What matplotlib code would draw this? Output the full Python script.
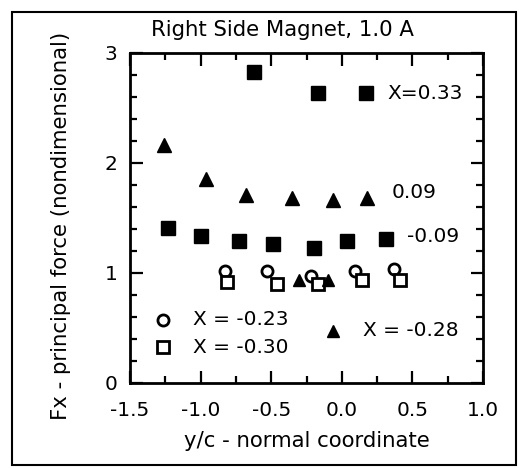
import matplotlib
matplotlib.use("Agg")
import matplotlib.pyplot as plt
from matplotlib.patches import Rectangle
from matplotlib.ticker import MultipleLocator, FormatStrFormatter

plt.rcParams['font.family'] = ['DejaVu Sans']

# Data
x_033 = [-0.62, -0.17, 0.17]
y_033 = [2.83, 2.64, 2.64]

x_009 = [-1.26, -0.96, -0.68, -0.35, -0.06, 0.18]
y_009 = [2.16, 1.85, 1.71, 1.68, 1.66, 1.68]

x_m009 = [-1.23, -1.00, -0.73, -0.49, -0.20, 0.04, 0.31]
y_m009 = [1.41, 1.34, 1.29, 1.26, 1.23, 1.29, 1.31]

x_m023 = [-0.83, -0.53, -0.22, 0.09, 0.37]
y_m023 = [1.02, 1.02, 0.97, 1.02, 1.04]

x_m030 = [-0.81, -0.46, -0.17, 0.14, 0.41]
y_m030 = [0.92, 0.90, 0.90, 0.94, 0.94]

x_m028 = [-0.30, -0.10]
y_m028 = [0.94, 0.94]

FS = 14.5
FL = 15.3

fig = plt.figure(figsize=(5.19, 4.68), dpi=100)
ax = fig.add_axes([130/519, 1-383/468, (483-130)/519, (383-53)/468])

ax.plot(x_033, y_033, 's', color='black', ms=10, ls='none')
ax.plot(x_009, y_009, '^', color='black', ms=10, ls='none')
ax.plot(x_m009, y_m009, 's', color='black', ms=10, ls='none')
ax.plot(x_m023, y_m023, 'o', mfc='white', mec='black', mew=2, ms=8, ls='none')
ax.plot(x_m030, y_m030, 's', mfc='white', mec='black', mew=2, ms=8, ls='none')
ax.plot(x_m028, y_m028, '^', color='black', ms=8, ls='none')

ax.set_xlim(-1.5, 1.0)
ax.set_ylim(0, 3)
ax.xaxis.set_major_locator(MultipleLocator(0.5))
ax.xaxis.set_minor_locator(MultipleLocator(0.25))
ax.yaxis.set_major_locator(MultipleLocator(1))
ax.yaxis.set_minor_locator(MultipleLocator(0.2))
ax.xaxis.set_major_formatter(FormatStrFormatter('%.1f'))
ax.yaxis.set_major_formatter(FormatStrFormatter('%d'))
ax.tick_params(which='both', direction='in', top=True, right=True, width=1.6, labelsize=FS)
ax.tick_params(which='major', length=9)
ax.tick_params(which='minor', length=5)
ax.tick_params(axis='x', which='major', pad=13)
ax.tick_params(axis='y', which='major', pad=9)
for s in ax.spines.values():
    s.set_linewidth(2.0)

ax.set_xlabel('y/c - normal coordinate', fontsize=FL, labelpad=8)
fig.text(61/519, 1-226/468, 'Fx - principal force (nondimensional)', rotation=90,
         fontsize=FL, ha='center', va='center')
fig.text(282/519, 1-30/468, 'Right Side Magnet, 1.0 A', fontsize=FL, ha='center', va='center')

# annotations
ax.text(0.32, 2.636, 'X=0.33', fontsize=FS, ha='left', va='center')
ax.text(0.356, 1.736, '0.09', fontsize=FS, ha='left', va='center')
ax.text(0.462, 1.336, '-0.09', fontsize=FS, ha='left', va='center')

ax.plot([-1.266], [0.573], 'o', mfc='white', mec='black', mew=2, ms=8)
ax.text(-1.054, 0.573, 'X = -0.23', fontsize=FS, ha='left', va='center')
ax.plot([-1.266], [0.327], 's', mfc='white', mec='black', mew=2, ms=8)
ax.text(-1.054, 0.327, 'X = -0.30', fontsize=FS, ha='left', va='center')
ax.plot([-0.062], [0.473], '^', color='black', ms=8)
ax.text(0.15, 0.473, 'X = -0.28', fontsize=FS, ha='left', va='center')

# outer frame
fig.patches.append(Rectangle((12/519, 3/468), (516-12)/519, (456-3)/468,
                             transform=fig.transFigure, fill=False, lw=1.5, ec='black'))

fig.savefig('out.png', dpi=100)
